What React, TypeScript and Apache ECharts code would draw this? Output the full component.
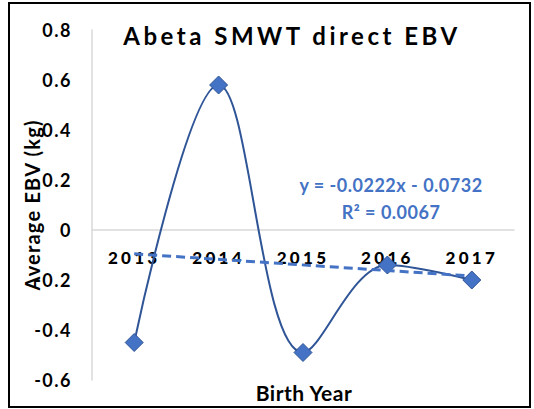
import React, { useEffect, useRef } from "react";
import * as echarts from "echarts";

const categories = ["2013", "2014", "2015", "2016", "2017"];
const ebvValues = [-0.45, 0.58, -0.49, -0.14, -0.2];
const trendValues = [-0.0954, null, null, null, -0.1842];
const yTicks = { min: -0.6, max: 0.8, interval: 0.2 };
const yTickLabels = ["0.8", "0.6", "0.4", "0.2", "0", "-0.2", "-0.4", "-0.6"];
const titleText = "Abeta SMWT direct EBV";
const yAxisName = "Average EBV (kg)";
const xAxisName = "Birth Year";
const equationText = "y = -0.0222x - 0.0732";
const r2Text = "R² = 0.0067";

const FONT = "Lato, 'Open Sans', sans-serif";

export default function App() {
  const ref = useRef<HTMLDivElement>(null);
  useEffect(() => {
    if (!ref.current) return;
    const chart = echarts.init(ref.current, null, { renderer: "svg" });
    chart.setOption({
      animation: false,
      backgroundColor: "#ffffff",
      grid: { left: 92, right: 20, top: 30, bottom: 29, containLabel: false },
      xAxis: {
        type: "category",
        data: categories,
        boundaryGap: true,
        offset: -150,
        axisLine: { show: true, onZero: false, lineStyle: { color: "#d9d9d9", width: 1.5 } },
        axisTick: { show: false },
        axisLabel: {
          color: "#000",
          fontFamily: FONT,
          fontWeight: 900,
          fontSize: 17,
          margin: 19,
        },
        splitLine: { show: false },
      },
      yAxis: {
        type: "value",
        min: yTicks.min,
        max: yTicks.max,
        interval: yTicks.interval,
        name: yAxisName,
        nameLocation: "middle",
        nameGap: 50,
        nameMoveOverlap: false,
        nameTextStyle: { color: "#000", fontFamily: FONT, fontWeight: "bold", fontSize: 20 },
        axisLine: { show: true, lineStyle: { color: "#d9d9d9", width: 1.5 } },
        axisTick: { show: false },
        splitLine: { show: false },
        axisLabel: {
          color: "#000",
          fontFamily: FONT,
          fontWeight: "bold",
          fontSize: 18,
          margin: 20,
        },
      },
      series: [
        {
          type: "line",
          data: ebvValues,
          smooth: 0.36,
          symbol: "diamond",
          symbolSize: 18,
          lineStyle: { color: "#2F5597", width: 2 },
          itemStyle: { color: "#4472C4", borderColor: "#2F5597", borderWidth: 1 },
          z: 3,
        },
        {
          type: "line",
          data: trendValues,
          connectNulls: true,
          symbol: "none",
          lineStyle: { color: "#4472C4", width: 3, type: [9, 5] },
          z: 4,
        },
      ],
      graphic: [
        {
          type: "text",
          x: 292,
          y: 35,
          style: {
            text: titleText,
            textAlign: "center",
            textVerticalAlign: "middle",
            fontFamily: FONT,
            fontWeight: "bold",
            fontSize: 24,
            fill: "#000",
          },
        },
        {
          type: "text",
          x: 391,
          y: 185,
          style: {
            text: equationText,
            textAlign: "center",
            textVerticalAlign: "middle",
            fontFamily: FONT,
            fontWeight: "bold",
            fontSize: 18,
            fill: "#4472C4",
          },
        },
        {
          type: "text",
          x: 391,
          y: 212,
          style: {
            text: r2Text,
            textAlign: "center",
            textVerticalAlign: "middle",
            fontFamily: FONT,
            fontWeight: "bold",
            fontSize: 18,
            fill: "#4472C4",
          },
        },
        {
          type: "text",
          x: 304,
          y: 392,
          style: {
            text: xAxisName,
            textAlign: "center",
            textVerticalAlign: "middle",
            fontFamily: FONT,
            fontWeight: "bold",
            fontSize: 21,
            fill: "#000",
          },
        },
        {
          type: "rect",
          shape: { x: 9, y: 3, width: 521, height: 404 },
          style: { fill: "none", stroke: "#000", lineWidth: 2 },
          silent: true,
        },
      ],
    });
    const spacingFor = (s: string): number => {
      if (s === titleText) return 3.5;
      if (categories.includes(s)) return 3.3;
      if (yTickLabels.includes(s)) return 1.5;
      if (s === yAxisName) return 1.2;
      if (s === xAxisName) return 0.5;
      if (s === equationText || s === r2Text) return 0.5;
      return 0;
    };
    const applySpacing = () => {
      const el = ref.current;
      if (!el) return;
      el.querySelectorAll("text").forEach((t) => {
        const sp = spacingFor(t.textContent || "");
        if (sp) {
          t.setAttribute("letter-spacing", String(sp));
          (t as any).style.letterSpacing = sp + "px";
        }
      });
    };
    applySpacing();
    chart.on("finished", applySpacing);
    const tm = setTimeout(applySpacing, 50);
    return () => {
      clearTimeout(tm);
      chart.dispose();
    };
  }, []);
  return (
    <div
      ref={ref}
      style={{ position: "fixed", left: 0, top: 0, width: 534, height: 409 }}
    />
  );
}
